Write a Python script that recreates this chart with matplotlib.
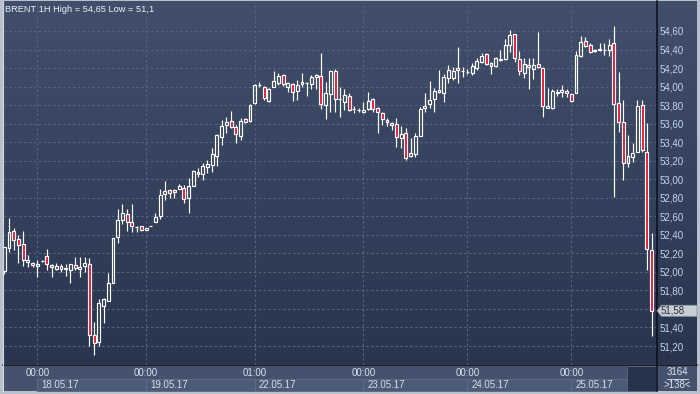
import numpy as np
import matplotlib
matplotlib.use("Agg")
import matplotlib.pyplot as plt
from matplotlib.patches import Rectangle, Polygon
from matplotlib.transforms import blended_transform_factory
from matplotlib.colors import to_rgb

# ---------------- data (hourly BRENT candles) ----------------
opens = [52.01, 52.26, 52.44, 52.36, 52.30, 52.11, 52.10, 52.06, 52.12, 52.17,
         52.07, 52.03, 52.06, 52.03, 52.02, 52.07, 52.03, 52.06, 52.09, 51.32,
         51.24, 51.63, 51.69, 51.88, 52.38, 52.56, 52.63, 52.54, 52.48, 52.49,
         52.45, 52.49, 52.54, 52.60, 52.84, 52.88, 52.88, 52.89, 52.91, 52.80,
         52.93, 53.06, 53.06, 53.13, 53.15, 53.25, 53.46, 53.59, 53.63, 53.56,
         53.47, 53.65, 53.63, 53.82, 54.02, 54.00, 53.84, 54.00, 54.04, 54.13,
         54.00, 54.03, 53.95, 54.03, 54.04, 54.03, 54.10, 54.11, 53.80, 53.92,
         54.17, 53.87, 53.83, 53.90, 53.76, 53.75, 53.73, 53.76, 53.87, 53.77,
         53.72, 53.64, 53.61, 53.60, 53.45, 53.50, 53.25, 53.27, 53.47, 53.77,
         53.81, 53.87, 53.96, 53.93, 54.09, 54.09, 54.20, 54.17, 54.16, 54.15,
         54.20, 54.27, 54.35, 54.25, 54.22, 54.29, 54.30, 54.45, 54.57, 54.30,
         54.15, 54.23, 54.19, 54.24, 54.20, 53.77, 53.77, 53.93, 53.94, 53.95,
         53.92, 53.93, 54.33, 54.49, 54.45, 54.39, 54.40, 54.40, 54.40, 54.47,
         53.82, 53.62, 53.18, 53.24, 53.29, 53.80, 53.29, 52.24]
highs = [52.27, 52.58, 52.47, 52.40, 52.44, 52.18, 52.11, 52.13, 52.13, 52.25,
         52.09, 52.10, 52.09, 52.08, 52.08, 52.16, 52.16, 52.16, 52.15, 51.46,
         51.71, 51.72, 51.99, 52.37, 52.68, 52.73, 52.68, 52.73, 52.50, 52.50,
         52.47, 52.49, 52.64, 52.89, 52.98, 52.90, 52.90, 52.95, 52.94, 53.01,
         53.10, 53.12, 53.18, 53.21, 53.34, 53.49, 53.64, 53.67, 53.74, 53.59,
         53.66, 53.66, 53.81, 54.03, 54.05, 54.01, 53.98, 54.17, 54.15, 54.14,
         54.05, 54.04, 54.07, 54.15, 54.05, 54.13, 54.14, 54.36, 54.05, 54.18,
         54.19, 54.00, 53.97, 53.93, 53.79, 53.77, 53.83, 53.94, 53.88, 53.78,
         53.73, 53.66, 53.62, 53.66, 53.57, 53.55, 53.45, 53.50, 53.78, 53.93,
         54.06, 53.98, 54.18, 54.14, 54.23, 54.21, 54.43, 54.21, 54.19, 54.25,
         54.31, 54.36, 54.36, 54.27, 54.32, 54.39, 54.51, 54.61, 54.57, 54.38,
         54.31, 54.31, 54.31, 54.59, 54.21, 53.98, 53.97, 53.97, 54.02, 53.97,
         53.93, 54.38, 54.55, 54.54, 54.47, 54.41, 54.47, 54.47, 54.51, 54.65,
         54.16, 53.86, 53.48, 53.39, 53.86, 53.86, 53.61, 52.42]
lows = [51.98, 52.21, 52.24, 52.10, 52.06, 52.05, 52.05, 51.95, 52.11, 52.02,
        51.95, 52.02, 52.00, 51.96, 51.88, 52.02, 51.95, 52.00, 51.20, 51.10,
        51.20, 51.45, 51.69, 51.88, 52.31, 52.52, 52.44, 52.43, 52.43, 52.44,
        52.45, 52.49, 52.54, 52.57, 52.78, 52.80, 52.80, 52.89, 52.74, 52.64,
        52.93, 53.02, 52.99, 53.07, 53.08, 53.14, 53.37, 53.50, 53.55, 53.39,
        53.42, 53.61, 53.62, 53.81, 54.00, 53.86, 53.83, 54.00, 54.02, 54.01,
        53.94, 53.84, 53.86, 54.00, 53.90, 53.97, 53.97, 53.76, 53.65, 53.73,
        53.73, 53.67, 53.75, 53.74, 53.72, 53.73, 53.72, 53.75, 53.73, 53.50,
        53.59, 53.57, 53.53, 53.35, 53.34, 53.21, 53.24, 53.24, 53.47, 53.73,
        53.77, 53.73, 53.93, 53.83, 54.04, 54.07, 54.04, 54.10, 54.14, 54.13,
        54.18, 54.25, 54.23, 54.14, 54.21, 54.28, 54.29, 54.37, 54.27, 54.13,
        54.09, 53.97, 54.08, 54.20, 53.67, 53.77, 53.76, 53.90, 53.89, 53.89,
        53.83, 53.93, 54.32, 54.43, 54.36, 54.37, 54.38, 54.34, 54.33, 52.81,
        53.51, 52.99, 53.13, 53.19, 53.29, 53.29, 52.02, 51.31]
closes = [52.27, 52.43, 52.34, 52.29, 52.13, 52.13, 52.07, 52.08, 52.12, 52.08,
          52.05, 52.06, 52.03, 52.04, 52.08, 52.04, 52.05, 52.10, 51.32, 51.23,
          51.66, 51.71, 51.88, 52.37, 52.56, 52.64, 52.54, 52.50, 52.48, 52.45,
          52.47, 52.49, 52.59, 52.83, 52.87, 52.85, 52.86, 52.93, 52.79, 52.93,
          53.09, 53.08, 53.14, 53.16, 53.27, 53.48, 53.57, 53.62, 53.56, 53.49,
          53.63, 53.62, 53.80, 54.02, 54.02, 53.88, 53.97, 54.06, 54.11, 54.03,
          54.04, 53.94, 54.02, 54.05, 54.04, 54.10, 54.13, 53.81, 53.93, 54.17,
          53.87, 53.87, 53.91, 53.75, 53.76, 53.75, 53.75, 53.84, 53.76, 53.73,
          53.65, 53.62, 53.59, 53.46, 53.49, 53.23, 53.28, 53.47, 53.76, 53.79,
          53.86, 53.95, 53.94, 54.10, 54.18, 54.17, 54.18, 54.17, 54.16, 54.22,
          54.28, 54.33, 54.24, 54.22, 54.31, 54.30, 54.45, 54.56, 54.31, 54.17,
          54.24, 54.21, 54.23, 54.21, 53.79, 53.79, 53.95, 53.94, 53.96, 53.93,
          53.84, 54.34, 54.48, 54.44, 54.37, 54.38, 54.41, 54.39, 54.45, 53.81,
          53.62, 53.18, 53.25, 53.28, 53.79, 53.32, 52.25, 51.58]

day_bar_index = [7, 30, 53, 76, 98, 120]
time_labels = ["00:00", "00:00", "01:00", "00:00", "00:00", "00:00"]
date_labels = ["18.05.17", "19.05.17", "22.05.17", "23.05.17", "24.05.17", "25.05.17"]
price_ticks = [51.2, 51.4, 51.6, 51.8, 52.0, 52.2, 52.4, 52.6, 52.8,
               53.0, 53.2, 53.4, 53.6, 53.8, 54.0, 54.2, 54.4, 54.6]
last_price = 51.58
title = "BRENT 1H High = 54,65 Low = 51,1"
bars_total = "3164"
bars_visible = ">138<"

# ---------------- figure ----------------
W, H = 700, 394
FONT = "Liberation Sans"
plt.rcParams['font.family'] = [FONT, 'DejaVu Sans']

fig = plt.figure(figsize=(W / 100, H / 100), dpi=100, facecolor="#b9c0cb")

bg = fig.add_axes([0, 0, 1, 1])
bg.set_xlim(0, W)
bg.set_ylim(H, 0)
bg.axis("off")

top_c = np.array(to_rgb("#414f6c"))
bot_c = np.array(to_rgb("#29354f"))
t = np.linspace(0, 1, 256)[:, None, None]
grad = top_c[None, None, :] * (1 - t) + bot_c[None, None, :] * t
bg.imshow(grad, extent=[3, 697, 364, 1], aspect="auto", origin="upper", zorder=0)
# time panel
bg.add_patch(Rectangle((3, 365), 694, 26, facecolor="#44526e", edgecolor="none", zorder=1))
# dark box bottom right of plot
bg.add_patch(Rectangle((627, 365.5), 29, 25, facecolor="#27324b", edgecolor="#56647e", lw=0.7, zorder=3))
# separators
bg.plot([3, 697], [364.5, 364.5], color="#0b0f18", lw=1.1, zorder=4)
bg.plot([656.5, 656.5], [1, 391], color="#0b0f18", lw=1.1, zorder=4)
# light frame inner line
bg.plot([3, 3], [1, 391], color="#d4d9e2", lw=0.8, zorder=4)

# title
bg.text(5, 9.5, title, color="#eef1f6", fontsize=6.7, ha="left", va="center", zorder=5)

# bottom-right counter
bg.text(677.5, 372, bars_total, color="#dfe5ef", fontsize=7, ha="center", va="center", zorder=5)
bg.plot([667, 688], [378.5, 378.5], color="#c9d1de", lw=0.7, zorder=5)
bg.text(677.5, 385, bars_visible, color="#dfe5ef", fontsize=7, ha="center", va="center", zorder=5)

# ---------------- candle axes ----------------
left_px, right_px, top_px, bot_px = 4, 656, 3, 365
ax = fig.add_axes([left_px / W, 1 - bot_px / H, (right_px - left_px) / W, (bot_px - top_px) / H])
ax.set_facecolor("none")
step = 4.725
x0 = 4.3
ax.set_xlim((left_px - x0) / step, (right_px - x0) / step)
ppu = 92.65
ax.set_ylim(54.6 - (bot_px - 31) / ppu, 54.6 + (31 - top_px) / ppu)

x = np.arange(len(opens))
o = np.array(opens); h = np.array(highs); l = np.array(lows); c = np.array(closes)
body_top = np.maximum(o, c)
body_bot = np.minimum(o, c)
up = c >= o

ax.vlines(x, body_top, h, color="white", lw=0.85, zorder=3)
ax.vlines(x, l, body_bot, color="white", lw=0.85, zorder=3)
faces = ["none" if u else "#e3122f" for u in up]
ax.bar(x, body_top - body_bot, bottom=body_bot, width=0.62, color=faces,
       edgecolor="white", linewidth=0.85, zorder=4)

# grid; the label nearest the last-price marker is hidden by it, as in the reference
ax.set_yticks(price_ticks)
ylabels = []
for v in price_ticks:
    lab = f"{v:.2f}".replace(".", ",")
    if abs(v - last_price) < 0.1:
        lab = ""
    ylabels.append(lab)
ax.set_yticklabels(ylabels)
ax.yaxis.tick_right()
ax.tick_params(axis="y", length=0, pad=2.4, labelsize=7, labelcolor="#c3d4ee")
ax.set_xticks(day_bar_index)
ax.tick_params(axis="x", length=0, labelbottom=False)
ax.grid(True, color="#56647f", lw=0.8, linestyle=(0, (2.2, 2.2)), zorder=1)
for s in ax.spines.values():
    s.set_visible(False)

# time axis labels and date boxes
tr = blended_transform_factory(ax.transData, bg.transData)
edges = day_bar_index + [(627 - x0) / step]
for i, idx in enumerate(day_bar_index):
    bg.add_patch(Rectangle((edges[i], 378.5), edges[i + 1] - edges[i], 12.5, transform=tr,
                           facecolor="#4b5a77", edgecolor="#5e6c88", lw=0.7, zorder=2))
    bg.text(idx, 372.5, time_labels[i], transform=tr, color="#d6deeb", fontsize=7,
            ha="center", va="center", zorder=5)
    bg.text(idx + 0.85, 385, date_labels[i], transform=tr, color="#d6deeb", fontsize=7,
            ha="left", va="center", zorder=5)

# current price marker
tr2 = blended_transform_factory(bg.transData, ax.transData)
hh = 5.5 / ppu
poly = Polygon([(657, last_price), (661.5, last_price + hh), (697, last_price + hh),
                (697, last_price - hh), (661.5, last_price - hh)], closed=True,
               transform=tr2, facecolor="#c9cdd4", edgecolor="#8e96a4", lw=0.6,
               zorder=6, clip_on=False)
bg.add_patch(poly)
bg.text(661, last_price, f"{last_price:.2f}".replace(".", ","), transform=tr2,
        color="#2a2f3a", fontsize=7, ha="left", va="center", zorder=7)

fig.savefig("out.png", dpi=100, facecolor=fig.get_facecolor())
